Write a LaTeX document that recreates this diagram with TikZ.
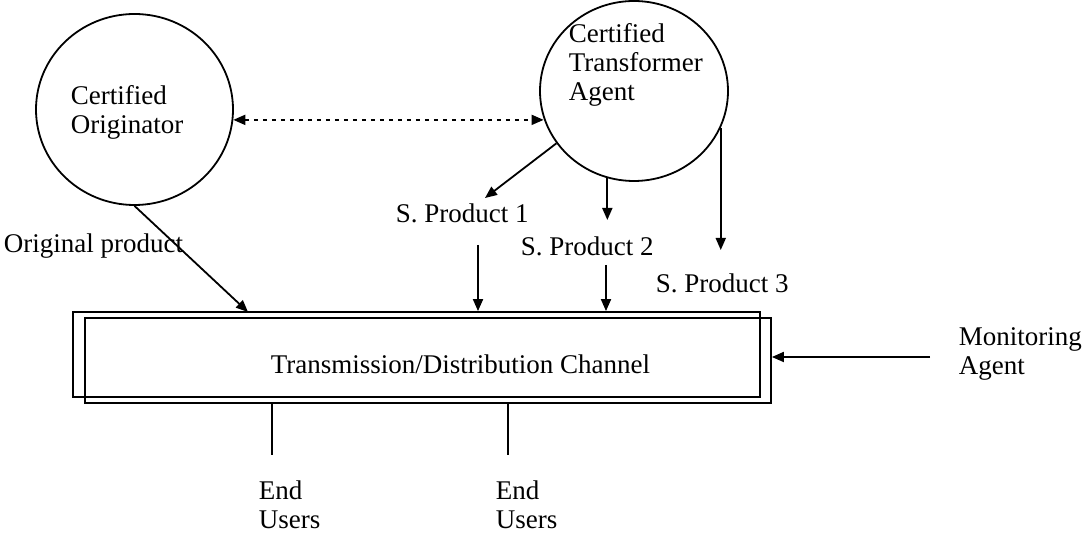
\documentclass[tikz,border=0pt]{standalone}
\usepackage{fontspec}
\setmainfont{Liberation Serif}
\usetikzlibrary{arrows.meta,shapes.geometric}
\begin{document}
\begin{tikzpicture}[x=0.5pt,y=-0.5pt,line width=0.9pt,
    tip/.style={-{Triangle[length=6pt,width=5pt]}},
    both/.style={{Triangle[length=6pt,width=5pt]}-{Triangle[length=6pt,width=5pt]}},
    party/.style={ellipse,draw,inner sep=0pt},
    lbl/.style={font=\fontsize{13.5}{14.5}\selectfont,align=left,anchor=west,inner sep=0pt}]
      \useasboundingbox (0,0) rectangle (1083,533);
      % agents
      \node[party,minimum width=98.5pt,minimum height=95.5pt] (orig) at (134.5,109.5) {};
      \node[party,minimum width=94pt,minimum height=90pt] (trans) at (634,91) {};
      \node[lbl] (origtxt) at (70,112) {Certified\\Originator};
      \node[lbl] (transtxt) at (568,65) {Certified\\Transformer\\Agent};
      % channel
      \node[draw,minimum width=343.5pt,minimum height=42.5pt] (chan) at (416.5,354.5) {};
      \node[draw,minimum width=343pt,minimum height=42.5pt] (chanb) at (428,360.5) {};
      \node[lbl] (chantxt) at (270,364) {Transmission/Distribution Channel};
      % labels
      \node[lbl] (orprod) at (3,246) {Original product};
      \node[lbl] (sp1) at (395,213) {S. Product 1};
      \node[lbl] (sp2) at (520,246) {S. Product 2};
      \node[lbl] (sp3) at (655,283) {S. Product 3};
      \node[lbl] (mon) at (958,354) {Monitoring\\Agent};
      \node[lbl] (eu1) at (258,505) {End\\Users};
      \node[lbl] (eu2) at (495,505) {End\\Users};
      % connectors
      \draw[both,dash pattern=on 2pt off 2.5pt] (orig.-6) -- (orig.-6 -| trans.197);
      \coordinate (t1) at (485,198);
      \coordinate (t2) at (607,220);
      \coordinate (t3) at (720,250);
      \draw[tip] (trans.214) -- (t1);
      \draw[tip] (trans.-107) -- (trans.-107 |- t2);
      \draw[tip] (trans.-23) -- (trans.-23 |- t3);
      \coordinate (o1) at (248,312);
      \draw[tip] (orig.south) -- (o1);
      \coordinate (p1) at (478,245);
      \coordinate (p2) at (606,265);
      \draw[tip] (p1) -- (p1 |- chan.north);
      \draw[tip] (p2) -- (p2 |- chan.north);
      \coordinate (m1) at (930,357);
      \draw[tip] (m1) -- (m1 -| chanb.east);
      \coordinate (u1) at (272,455);
      \coordinate (u2) at (508,455);
      \draw (u1 |- chanb.south) -- (u1);
      \draw (u2 |- chanb.south) -- (u2);
    \end{tikzpicture}
\end{document}
